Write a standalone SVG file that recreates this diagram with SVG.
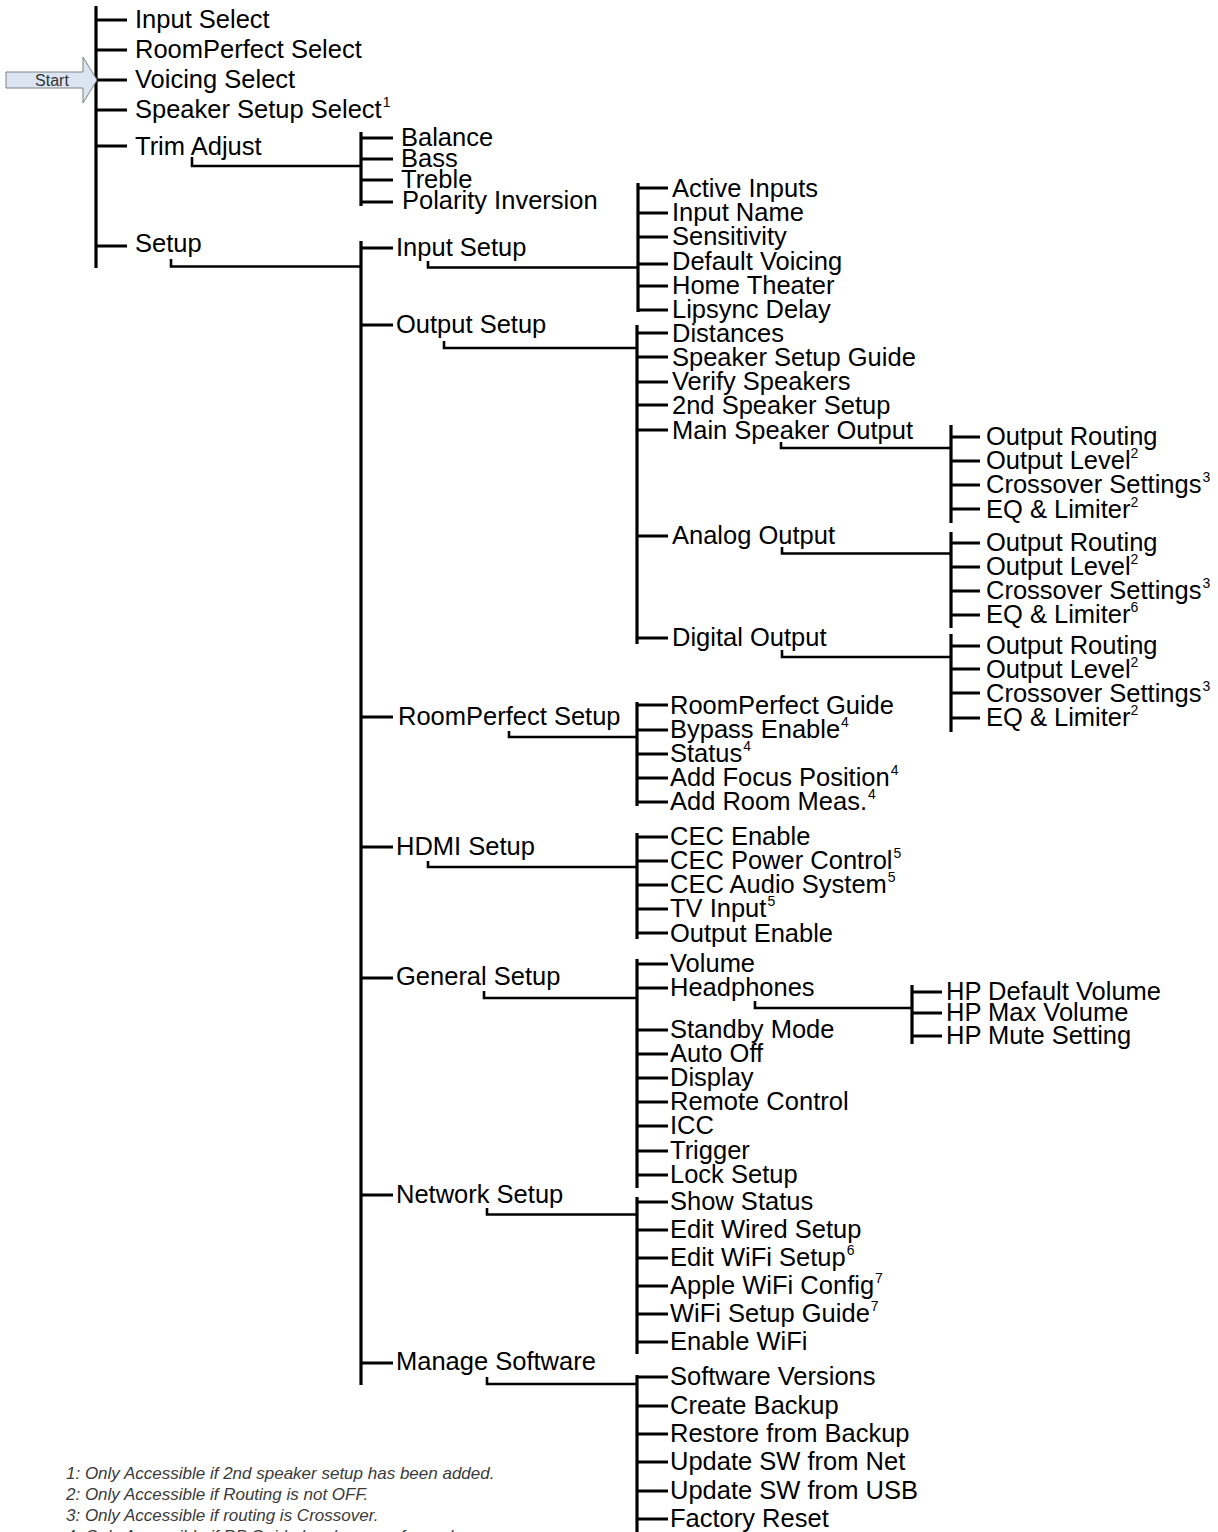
<svg xmlns="http://www.w3.org/2000/svg" width="1218" height="1532" viewBox="0 0 1218 1532">
<style>
.t{font-family:"Liberation Sans",Arial,sans-serif;font-size:25.5px;fill:#000}
.s{font-size:14px}
.fn{font-family:"Liberation Sans",Arial,sans-serif;font-size:17px;font-style:italic;fill:#3a3a3a}
.v{stroke:#000;stroke-width:3.2;fill:none}
.b{stroke:#000;stroke-width:3;fill:none}
.c{stroke:#000;stroke-width:2.6;fill:none}
</style>
<rect width="1218" height="1532" fill="#fff"/>
<g id="connectors">
<path class="v" d="M96 6V268"/>
<path class="b" d="M96 20H127M96 50H127M96 80H127M96 110H127M96 146H127M96 246H127"/>
<path class="c" d="M192 157V166H361"/>
<path class="v" d="M361 132V206"/>
<path class="b" d="M361 138H393M361 159H393M361 180H393M361 202H393"/>
<path class="c" d="M171 259V266.5H361"/>
<path class="v" d="M361 241V1385"/>
<path class="b" d="M361 248H393M361 325H393M361 717H393M361 847H393M361 978H393M361 1195H393M361 1363H393"/>
<path class="c" d="M428 261V267.5H638"/>
<path class="v" d="M638 183V312"/>
<path class="b" d="M638 188H668M638 213H668M638 237H668M638 264H668M638 286H668M638 310H668"/>
<path class="c" d="M444 341V348H637"/>
<path class="v" d="M637 325V644"/>
<path class="b" d="M637 333H668M637 357H668M637 382H668M637 405H668M637 430H668M637 536H668M637 638H668"/>
<path class="c" d="M781 442V448H951"/>
<path class="v" d="M951 425V523"/>
<path class="b" d="M951 437H980M951 461H980M951 485H980M951 509H980"/>
<path class="c" d="M782 547V553.5H951"/>
<path class="v" d="M951 532V628"/>
<path class="b" d="M951 543H980M951 567H980M951 591H980M951 615H980"/>
<path class="c" d="M782 650V657H951"/>
<path class="v" d="M951 634V732"/>
<path class="b" d="M951 646H980M951 669H980M951 693H980M951 718H980"/>
<path class="c" d="M509 731V737H637"/>
<path class="v" d="M637 702V806"/>
<path class="b" d="M637 705H668M637 730H668M637 754H668M637 778H668M637 802H668"/>
<path class="c" d="M428 861V867H637"/>
<path class="v" d="M637 833V939"/>
<path class="b" d="M637 837H668M637 861H668M637 885H668M637 909H668M637 933H668"/>
<path class="c" d="M484 991V998H637"/>
<path class="v" d="M637 959V1188"/>
<path class="b" d="M637 964H668M637 988H668M637 1030H668M637 1054H668M637 1078H668M637 1102H668M637 1126H668M637 1151H668M637 1175H668"/>
<path class="c" d="M755 1001V1008H912"/>
<path class="v" d="M912 985V1044"/>
<path class="b" d="M912 992H942M912 1013H942M912 1036H942"/>
<path class="c" d="M487 1208V1214.5H637"/>
<path class="v" d="M637 1197V1354"/>
<path class="b" d="M637 1202H668M637 1230H668M637 1258H668M637 1286H668M637 1314H668M637 1342H668"/>
<path class="c" d="M487 1377V1384H637"/>
<path class="v" d="M637 1375V1532"/>
<path class="b" d="M637 1377H668M637 1406H668M637 1434H668M637 1462H668M637 1491H668M637 1519H668"/>
</g>
<g id="start">
<polygon points="6,72 83,72 83,57 97,80 83,103 83,88 6,88" fill="#dbe5f1" stroke="#808080" stroke-width="1"/>
<text x="52" y="86" text-anchor="middle" style="font-family:'Liberation Sans',Arial,sans-serif;font-size:16px;fill:#333">Start</text>
</g>
<g id="top">
<text class="t" x="135" y="28">Input Select</text>
<text class="t" x="135" y="58">RoomPerfect Select</text>
<text class="t" x="135" y="88">Voicing Select</text>
<text class="t" x="135" y="118">Speaker Setup Select<tspan class="s" dx="1" dy="-11">1</tspan></text>
<text class="t" x="135" y="155">Trim Adjust</text>
<text class="t" x="135" y="252">Setup</text>
</g>
<g id="trim">
<text class="t" x="401" y="146">Balance</text>
<text class="t" x="401" y="167">Bass</text>
<text class="t" x="401" y="188">Treble</text>
<text class="t" x="402" y="209">Polarity Inversion</text>
</g>
<g id="input-setup">
<text class="t" x="396" y="256">Input Setup</text>
<text class="t" x="672" y="197">Active Inputs</text>
<text class="t" x="672" y="221">Input Name</text>
<text class="t" x="672" y="245">Sensitivity</text>
<text class="t" x="672" y="270">Default Voicing</text>
<text class="t" x="672" y="294">Home Theater</text>
<text class="t" x="672" y="318">Lipsync Delay</text>
</g>
<g id="output-setup">
<text class="t" x="396" y="333">Output Setup</text>
<text class="t" x="672" y="342">Distances</text>
<text class="t" x="672" y="366">Speaker Setup Guide</text>
<text class="t" x="672" y="390">Verify Speakers</text>
<text class="t" x="672" y="414">2nd Speaker Setup</text>
<text class="t" x="672" y="439">Main Speaker Output</text>
<text class="t" x="672" y="544">Analog Output</text>
<text class="t" x="672" y="646">Digital Output</text>
</g>
<g id="main-speaker-output">
<text class="t" x="986" y="445">Output Routing</text>
<text class="t" x="986" y="469">Output Level<tspan class="s" dy="-11">2</tspan></text>
<text class="t" x="986" y="493">Crossover Settings<tspan class="s" dx="1" dy="-11">3</tspan></text>
<text class="t" x="986" y="518">EQ &amp; Limiter<tspan class="s" dy="-11">2</tspan></text>
</g>
<g id="analog-output">
<text class="t" x="986" y="551">Output Routing</text>
<text class="t" x="986" y="575">Output Level<tspan class="s" dy="-11">2</tspan></text>
<text class="t" x="986" y="599">Crossover Settings<tspan class="s" dx="1" dy="-11">3</tspan></text>
<text class="t" x="986" y="623">EQ &amp; Limiter<tspan class="s" dy="-11">6</tspan></text>
</g>
<g id="digital-output">
<text class="t" x="986" y="654">Output Routing</text>
<text class="t" x="986" y="678">Output Level<tspan class="s" dy="-11">2</tspan></text>
<text class="t" x="986" y="702">Crossover Settings<tspan class="s" dx="1" dy="-11">3</tspan></text>
<text class="t" x="986" y="726">EQ &amp; Limiter<tspan class="s" dy="-11">2</tspan></text>
</g>
<g id="roomperfect-setup">
<text class="t" x="398" y="725">RoomPerfect Setup</text>
<text class="t" x="670" y="714">RoomPerfect Guide</text>
<text class="t" x="670" y="738">Bypass Enable<tspan class="s" dx="1" dy="-11">4</tspan></text>
<text class="t" x="670" y="762">Status<tspan class="s" dx="1" dy="-11">4</tspan></text>
<text class="t" x="670" y="786">Add Focus Position<tspan class="s" dx="1" dy="-11">4</tspan></text>
<text class="t" x="670" y="810">Add Room Meas.<tspan class="s" dx="1" dy="-11">4</tspan></text>
</g>
<g id="hdmi-setup">
<text class="t" x="396" y="855">HDMI Setup</text>
<text class="t" x="670" y="845">CEC Enable</text>
<text class="t" x="670" y="869">CEC Power Control<tspan class="s" dx="1" dy="-11">5</tspan></text>
<text class="t" x="670" y="893">CEC Audio System<tspan class="s" dx="1" dy="-11">5</tspan></text>
<text class="t" x="670" y="917">TV Input<tspan class="s" dx="1" dy="-11">5</tspan></text>
<text class="t" x="670" y="942">Output Enable</text>
</g>
<g id="general-setup">
<text class="t" x="396" y="985">General Setup</text>
<text class="t" x="670" y="972">Volume</text>
<text class="t" x="670" y="996">Headphones</text>
<text class="t" x="670" y="1038">Standby Mode</text>
<text class="t" x="670" y="1062">Auto Off</text>
<text class="t" x="670" y="1086">Display</text>
<text class="t" x="670" y="1110">Remote Control</text>
<text class="t" x="670" y="1134">ICC</text>
<text class="t" x="670" y="1159">Trigger</text>
<text class="t" x="670" y="1183">Lock Setup</text>
</g>
<g id="headphones">
<text class="t" x="946" y="1000">HP Default Volume</text>
<text class="t" x="946" y="1021">HP Max Volume</text>
<text class="t" x="946" y="1044">HP Mute Setting</text>
</g>
<g id="network-setup">
<text class="t" x="396" y="1203">Network Setup</text>
<text class="t" x="670" y="1210">Show Status</text>
<text class="t" x="670" y="1238">Edit Wired Setup</text>
<text class="t" x="670" y="1266">Edit WiFi Setup<tspan class="s" dx="1" dy="-11">6</tspan></text>
<text class="t" x="670" y="1294">Apple WiFi Config<tspan class="s" dx="1" dy="-11">7</tspan></text>
<text class="t" x="670" y="1322">WiFi Setup Guide<tspan class="s" dx="1" dy="-11">7</tspan></text>
<text class="t" x="670" y="1350">Enable WiFi</text>
</g>
<g id="manage-software">
<text class="t" x="396" y="1370">Manage Software</text>
<text class="t" x="670" y="1385">Software Versions</text>
<text class="t" x="670" y="1414">Create Backup</text>
<text class="t" x="670" y="1442">Restore from Backup</text>
<text class="t" x="670" y="1470">Update SW from Net</text>
<text class="t" x="670" y="1499">Update SW from USB</text>
<text class="t" x="670" y="1527">Factory Reset</text>
</g>
<g id="footnotes">
<text class="fn" x="66" y="1479">1: Only Accessible if 2nd speaker setup has been added.</text>
<text class="fn" x="66" y="1500">2: Only Accessible if Routing is not OFF.</text>
<text class="fn" x="66" y="1521">3: Only Accessible if routing is Crossover.</text>
<text class="fn" x="66" y="1542">4: Only Accessible if RP Guide has been performed.</text>
</g>
</svg>
